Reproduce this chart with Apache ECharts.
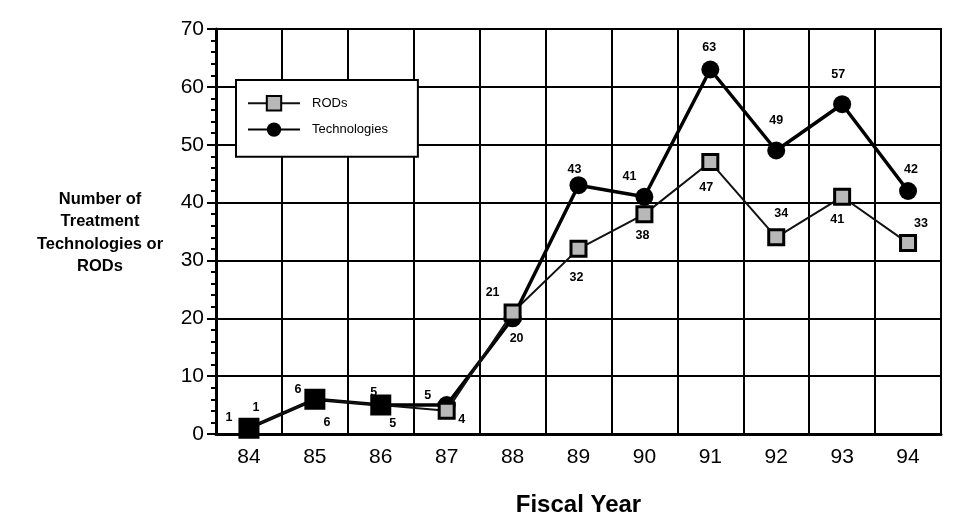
<!DOCTYPE html>
<html>
<head>
<meta charset="utf-8">
<script src="https://cdn.jsdelivr.net/npm/echarts@6/dist/echarts.min.js"></script>
<style>
html, body { margin: 0; padding: 0; background: #fff; }
#chart { width: 953px; height: 529px; }
</style>
</head>
<body>
<div id="chart"></div>
<script>
// fiscal years and counts
const years = ['84', '85', '86', '87', '88', '89', '90', '91', '92', '93', '94'];
const rods = [1, 6, 5, 4, 21, 32, 38, 47, 34, 41, 33];
const technologies = [1, 6, 5, 5, 20, 43, 41, 63, 49, 57, 42];

// where each value label sits relative to its marker (px)
const rodLabelOffset = [[-20, -11], [12, 23], [12, 18], [15, 9], [-20, -20], [-2, 29], [-2, 21], [-4, 25], [5, -24], [-5, 23], [13, -20]];
const techLabelOffset = [[7, -21], [-17, -10], [-7, -13], [-19, -10], [4, 20], [-4, -16], [-15, -20], [-1, -22], [0, -30], [-4, -30], [3, -21]];

const FONT = '"Liberation Sans", Arial, Helvetica, sans-serif';

function withLabels(values, offsets, extra) {
    return values.map((v, i) => {
        const item = {
            value: v,
            label: { show: true, position: 'inside', offset: offsets[i] }
        };
        if (extra) Object.assign(item, extra(i));
        return item;
    });
}

const chart = echarts.init(document.getElementById('chart'));
const labelStyle = {
    color: '#000',
    fontFamily: FONT,
    fontWeight: 'bold',
    fontSize: 12.5,
    formatter: '{c}'
};

const option = {
    animation: false,
    backgroundColor: '#fff',
    textStyle: { fontFamily: FONT },
    grid: {
        left: 216, right: 12, top: 29, bottom: 95,
        show: true, borderColor: '#000', borderWidth: 2
    },
    legend: {
        left: 236, top: 80,
        orient: 'vertical',
        backgroundColor: '#fff',
        borderColor: '#000',
        borderWidth: 2,
        borderRadius: 0,
        padding: [15, 30, 20, 11],
        itemWidth: 52,
        itemHeight: 18,
        itemGap: 11,
        textStyle: { color: '#000', fontSize: 13, fontFamily: FONT, padding: [0, 0, 0, 7] },
        data: ['RODs', 'Technologies']
    },
    xAxis: {
        type: 'category',
        data: years,
        boundaryGap: true,
        axisLine: { lineStyle: { color: '#000', width: 3 } },
        axisTick: { show: false },
        axisLabel: { color: '#000', fontSize: 21, fontFamily: FONT, margin: 13 },
        splitLine: { show: true, lineStyle: { color: '#000', width: 2 } },
        name: 'Fiscal Year',
        nameLocation: 'middle',
        nameGap: 59,
        nameTextStyle: { color: '#000', fontSize: 24, fontWeight: 'bold', fontFamily: FONT }
    },
    yAxis: {
        type: 'value',
        min: 0, max: 70, interval: 10,
        axisLine: { show: true, lineStyle: { color: '#000', width: 3 } },
        axisTick: { show: true, length: 9, lineStyle: { color: '#000', width: 2 } },
        minorTick: { show: true, splitNumber: 5, length: 5, lineStyle: { color: '#000', width: 2 } },
        axisLabel: { color: '#000', fontSize: 21, fontFamily: FONT, margin: 12 },
        splitLine: { show: true, lineStyle: { color: '#000', width: 2 } }
    },
    graphic: [{
        type: 'text',
        x: 100, y: 188,
        style: {
            text: 'Number of\nTreatment\nTechnologies or\nRODs',
            align: 'center',
            fill: '#000',
            font: 'bold 16.5px ' + FONT,
            lineHeight: 22.5
        }
    }],
    series: [{
        name: 'Technologies',
        type: 'line',
        z: 3,
        symbol: 'circle',
        symbolSize: 18,
        lineStyle: { color: '#000', width: 3.5 },
        itemStyle: { color: '#000' },
        label: labelStyle,
        data: withLabels(technologies, techLabelOffset)
    }, {
        name: 'RODs',
        type: 'line',
        z: 4,
        symbol: 'rect',
        symbolSize: 15,
        lineStyle: { color: '#111', width: 2 },
        itemStyle: { color: '#b8b8b8', borderColor: '#000', borderWidth: 3 },
        label: labelStyle,
        // the first three squares print solid black in the scan
        data: withLabels(rods, rodLabelOffset, i => i < 3 ? {
            symbolSize: 18,
            itemStyle: { color: '#000', borderColor: '#000' }
        } : null)
    }]
};

chart.setOption(option);
window.addEventListener('resize', function () {
    chart.resize();
});
</script>
</body>
</html>
